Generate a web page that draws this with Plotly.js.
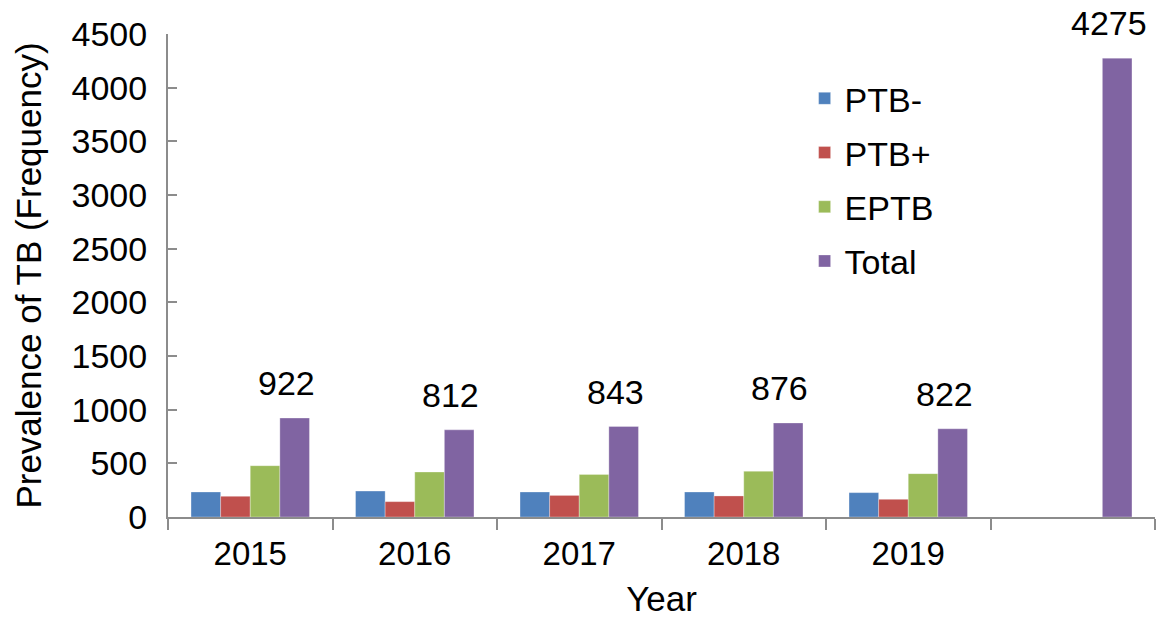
<!DOCTYPE html>
<html>
<head>
<meta charset="utf-8">
<script src="https://cdn.plot.ly/plotly-3.0.1.min.js"></script>
<style>html,body{margin:0;padding:0;background:#fff;}#chart{width:1159px;height:621px;}</style>
</head>
<body>
<div id="chart"></div>
<script>
var categories = ['2015', '2016', '2017', '2018', '2019', 'All'];
var tickLabels = ['2015', '2016', '2017', '2018', '2019', ''];
var ptbNeg = [233, 242, 233, 233, 227, null];
var ptbPos = [193, 143, 201, 196, 165, null];
var eptb = [478, 419, 397, 426, 404, null];
var total = [922, 812, 843, 876, 822, 4275];
var seriesNames = ['PTB-', 'PTB+', 'EPTB', 'Total'];
var seriesColors = ['#4F81BD', '#C0504D', '#9BBB59', '#8064A2'];
var seriesData = [ptbNeg, ptbPos, eptb, total];

var traces = seriesData.map(function (vals, i) {
  return {
    type: 'bar',
    name: seriesNames[i],
    x: categories,
    y: vals,
    legendgroup: 'g' + i,
    marker: {color: seriesColors[i], line: {color: 'rgba(255,255,255,0.6)', width: 0.5}}
  };
});

var font = 'Liberation Sans, Arial, sans-serif';
var annotations = categories.map(function (c, i) {
  return {
    x: i, y: total[i], xref: 'x', yref: 'y',
    text: String(total[i]), showarrow: false,
    yanchor: 'bottom', yshift: 14, xshift: 36,
    font: {family: font, size: 34, color: '#000'}
  };
});

var layout = {
  width: 1159, height: 621,
  margin: {l: 168, r: 4, t: 34, b: 104},
  paper_bgcolor: '#fff', plot_bgcolor: '#fff',
  barmode: 'group', bargap: 0.28, bargroupgap: 0,
  font: {family: font, color: '#000'},
  showlegend: true,
  legend: {
    x: 0.645, y: 0.926, xanchor: 'left', yanchor: 'top',
    font: {family: font, size: 34, color: '#000'},
    tracegroupgap: 7, bgcolor: 'rgba(0,0,0,0)'
  },
  xaxis: {
    type: 'category',
    range: [-0.5, categories.length - 0.5],
    tickmode: 'array', tickvals: categories, ticktext: tickLabels,
    showline: true, linecolor: '#8c8c8c', linewidth: 2,
    ticks: 'outside', tickson: 'boundaries', ticklen: 11, tickwidth: 2, tickcolor: '#8c8c8c',
    tickfont: {family: font, size: 33, color: '#000'},
    tickangle: 0,
    ticklabelstandoff: 6,
    showgrid: false, zeroline: false,
    title: {text: 'Year', font: {family: font, size: 35, color: '#000'}, standoff: 16}
  },
  yaxis: {
    range: [0, 4500], dtick: 500, tick0: 0,
    showline: true, linecolor: '#8c8c8c', linewidth: 2,
    ticks: 'inside', ticklen: 9, tickwidth: 2, tickcolor: '#8c8c8c',
    tickfont: {family: font, size: 34, color: '#000'},
    ticklabelstandoff: 12,
    showgrid: false, zeroline: false,
    title: {text: 'Prevalence of TB (Frequency)', font: {family: font, size: 35, color: '#000'}, standoff: 19}
  },
  annotations: annotations
};

Plotly.newPlot('chart', traces, layout, {displayModeBar: false, staticPlot: true});
</script>
</body>
</html>
